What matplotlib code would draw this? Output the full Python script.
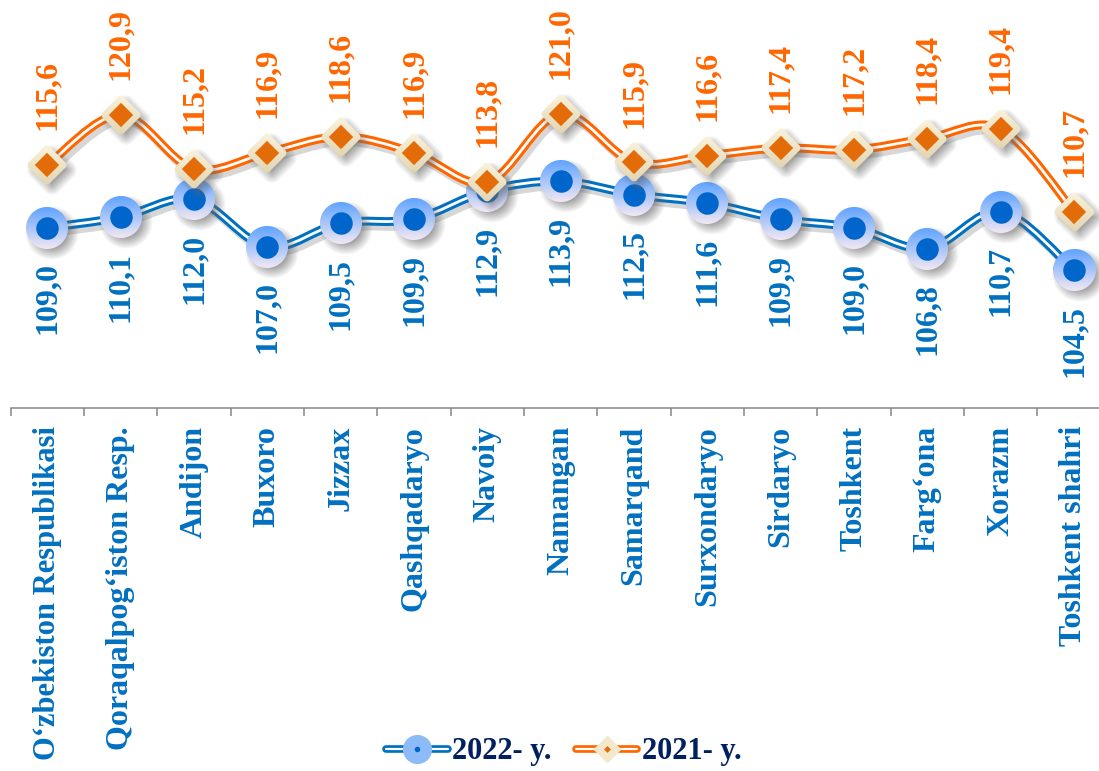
import matplotlib
matplotlib.use("Agg")
import matplotlib.pyplot as plt
import matplotlib.patheffects as pe
import numpy as np
from matplotlib.lines import Line2D
from matplotlib.offsetbox import AnnotationBbox, OffsetImage
from matplotlib.patches import PathPatch
from matplotlib.path import Path

regions = ["O\u02bbzbekiston Respublikasi", "Qoraqalpog\u02bbiston Resp.", "Andijon", "Buxoro",
           "Jizzax", "Qashqadaryo", "Navoiy", "Namangan", "Samarqand", "Surxondaryo",
           "Sirdaryo", "Toshkent", "Farg\u02bbona", "Xorazm", "Toshkent shahri"]
y2022 = [109.0, 110.1, 112.0, 107.0, 109.5, 109.9, 112.9, 113.9, 112.5, 111.6, 109.9, 109.0, 106.8, 110.7, 104.5]
y2021 = [115.6, 120.9, 115.2, 116.9, 118.6, 116.9, 113.8, 121.0, 115.9, 116.6, 117.4, 117.2, 118.4, 119.4, 110.7]
labels = ["2022- y.", "2021- y."]

BLUE = "#0070C0"
ORANGE = "#FF6600"
SERIF = ["Liberation Serif", "DejaVu Serif"]


def smooth_path(xs, ys):
    # excel-like smoothed line: catmull-rom turned into bezier segments
    n = len(xs)
    verts = [(xs[0], ys[0])]
    codes = [Path.MOVETO]
    for i in range(n - 1):
        a = max(i - 1, 0)
        b = min(i + 2, n - 1)
        c1 = (xs[i] + (xs[i + 1] - xs[a]) / 6, ys[i] + (ys[i + 1] - ys[a]) / 6)
        c2 = (xs[i + 1] - (xs[b] - xs[i]) / 6, ys[i + 1] - (ys[b] - ys[i]) / 6)
        verts += [c1, c2, (xs[i + 1], ys[i + 1])]
        codes += [Path.CURVE4] * 3
    return Path(verts, codes)


def marker_image(kind, top, bottom, r=21, canvas=70, off=5, blur=6):
    # gradient filled marker with a soft drop shadow, as an rgba array
    c = canvas / 2 - 0.5
    yy, xx = np.mgrid[0:canvas, 0:canvas].astype(float)

    def dist(cx, cy):
        x = xx - cx
        y = yy - cy
        if kind == "circle":
            return np.hypot(x, y) - r
        u = np.abs(x + y) / np.sqrt(2)
        v = np.abs(x - y) / np.sqrt(2)
        a = r / np.sqrt(2)
        rc = 4.0
        qx = u - a + rc
        qy = v - a + rc
        return np.hypot(np.maximum(qx, 0), np.maximum(qy, 0)) + np.minimum(np.maximum(qx, qy), 0) - rc

    d = dist(c, c)
    ds = dist(c + off, c + off)
    a_shape = np.clip(0.5 - d, 0, 1)
    a_shadow = np.clip((blur - ds) / (2 * blur), 0, 1) * 0.6
    t = np.clip((yy - (c - r)) / (2 * r), 0, 1)[..., None]
    col = np.array(matplotlib.colors.to_rgb(top)) * (1 - t) + np.array(matplotlib.colors.to_rgb(bottom)) * t
    sh = np.array([0.4, 0.4, 0.4])
    alpha = a_shape + a_shadow * (1 - a_shape)
    rgb = (col * a_shape[..., None] + sh * (a_shadow * (1 - a_shape))[..., None]) / np.maximum(alpha, 1e-6)[..., None]
    return np.dstack([rgb, alpha])


fig = plt.figure(figsize=(10.99, 7.71), dpi=100)
ax = fig.add_axes([10.65 / 1099, 1 - 408 / 771, 1100 / 1099, 408 / 771])
ax.set_xlim(-0.5, len(regions) - 0.5)
ax.set_ylim(90, 133)

x = np.arange(len(regions))

series = [
    (y2022, BLUE, "circle", "#5FA3FF", "#F3E8F3", "o", 15, "#0066CC", -25, "top", 2),
    (y2021, ORANGE, "diamond", "#FBF3DD", "#E2D4B0", "D", 11, "#E36C09", 25, "bottom", 3),
]

for vals, color, kind, top, bottom, mk, ms, inner, dy, va, z in series:
    path = smooth_path(x, vals)
    ax.add_patch(PathPatch(path, fill=False, edgecolor=color, lw=6.4, zorder=z,
                           path_effects=[pe.SimpleLineShadow(offset=(2.5, -3.5), shadow_color="0.3", alpha=0.22),
                                         pe.Normal()]))
    ax.add_patch(PathPatch(path, fill=False, edgecolor="white", lw=2.0, zorder=z + 0.01))
    img = marker_image(kind, top, bottom)
    for xi, yi in zip(x, vals):
        ab = AnnotationBbox(OffsetImage(img, zoom=1, dpi_cor=False), (xi, yi), frameon=False,
                            pad=0, annotation_clip=False, zorder=z + 0.1)
        ax.add_artist(ab)
    ax.plot(x, vals, ls="none", marker=mk, ms=ms, mfc=inner, mec=inner, mew=1.2, zorder=z + 0.2)
    for xi, yi in zip(x, vals):
        ax.annotate(f"{yi:.1f}".replace(".", ","), (xi, yi), xytext=(0, dy), textcoords="offset points",
                    rotation=90, ha="center", va=va, color=color, fontsize=23, fontweight="bold",
                    family=SERIF, zorder=6)

for s in ["top", "left", "right"]:
    ax.spines[s].set_visible(False)
ax.spines["bottom"].set_color("#868686")
ax.spines["bottom"].set_linewidth(1.1)
ax.set_yticks([])
ax.set_xticks(x)
ax.set_xticklabels(regions, rotation=90, va="top", ha="center", color=BLUE, fontsize=23,
                   fontweight="bold", family=SERIF)
ax.get_xticklabels()[0].set_fontsize(22)  # longest name, keep it inside the picture
ax.tick_params(axis="x", which="major", length=0, pad=13)
ax.set_xticks(np.arange(-0.5, len(regions)), minor=True)
ax.tick_params(axis="x", which="minor", length=6, width=1.1, color="#868686")

h2022 = (Line2D([0], [0], color=BLUE, lw=5.5, solid_capstyle="round"),
         Line2D([0], [0], color="white", lw=1.6, solid_capstyle="round"),
         Line2D([0], [0], ls="none", marker="o", ms=21, mfc="#8DBBF8", mec="none"),
         Line2D([0], [0], ls="none", marker="o", ms=4, mfc="#0066CC", mec="none"))
h2021 = (Line2D([0], [0], color=ORANGE, lw=5.5, solid_capstyle="round"),
         Line2D([0], [0], color="white", lw=1.6, solid_capstyle="round"),
         Line2D([0], [0], ls="none", marker="D", ms=14.5, mfc="#F3E8CB", mec="none"),
         Line2D([0], [0], ls="none", marker="D", ms=3.5, mfc="#E36C09", mec="none"))
fig.legend([h2022, h2021], labels, loc="center", bbox_to_anchor=(564 / 1099, 1 - 752 / 771),
           ncol=2, frameon=False, handlelength=2.0, handletextpad=0.15, columnspacing=0.8,
           prop={"family": SERIF, "weight": "bold", "size": 22}, labelcolor="#002060")

fig.savefig("out.png", dpi=100)
